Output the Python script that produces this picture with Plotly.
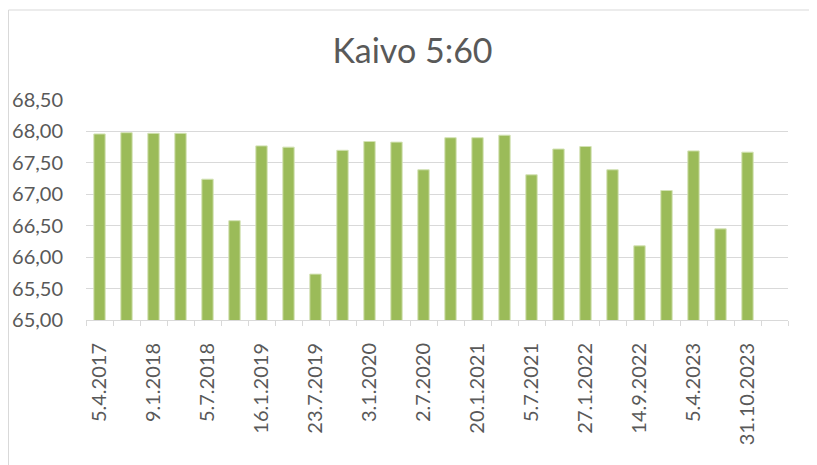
import plotly.graph_objects as go

# mittaukset (26 kpl), vain joka toinen päivämäärä näkyy akselilla
values = [67.96, 67.98, 67.97, 67.97, 67.24, 66.58, 67.77, 67.75, 65.73, 67.70,
          67.84, 67.83, 67.39, 67.90, 67.90, 67.94, 67.31, 67.72, 67.76, 67.39,
          66.18, 67.06, 67.69, 66.45, 67.67, 64.98]
tick_labels = ["5.4.2017", "9.1.2018", "5.7.2018", "16.1.2019", "23.7.2019", "3.1.2020",
               "2.7.2020", "20.1.2021", "5.7.2021", "27.1.2022", "14.9.2022", "5.4.2023",
               "31.10.2023"]
y_ticks = [65.0, 65.5, 66.0, 66.5, 67.0, 67.5, 68.0, 68.5]

x = list(range(len(values)))
tick_pos = x[::2]

grey = "#595959"
fig = go.Figure()
fig.add_trace(go.Bar(x=x, y=values, width=0.42,
                     marker=dict(color="#9bbb59", line=dict(color="#d3e2b4", width=1))))

# sivun body-marginaali (8 px) huomioitu koossa ja marginaaleissa
fig.update_layout(
    width=809, height=457,
    margin=dict(l=78, r=29, t=92, b=145),
    paper_bgcolor="white", plot_bgcolor="white",
    font=dict(family="Lato", color=grey, size=20),
    title=dict(text="Kaivo 5:60", x=0.5, xanchor="center", y=0.905, yanchor="middle",
               font=dict(family="Lato", size=34, color=grey)),
    showlegend=False,
    shapes=[dict(type="rect", xref="paper", yref="paper",
                 x0=-77.5 / 702, x1=1.2, y0=-1.0, y1=1 + 90 / 220,
                 line=dict(color="#d9d9d9", width=1), layer="below")],
)
fig.update_xaxes(range=[-0.5, len(values) - 0.5], tickvals=tick_pos, ticktext=tick_labels,
                 tickangle=-90, ticks="", showgrid=False, zeroline=False, automargin=False,
                 showline=True, linecolor="#d9d9d9", linewidth=1,
                 ticklabelstandoff=14, tickfont=dict(size=20, color=grey),
                 minor=dict(ticks="outside", tick0=-0.5, dtick=1, ticklen=5,
                            tickcolor="#d9d9d9", showgrid=False))
fig.update_yaxes(range=[65, 68.5], tickvals=y_ticks,
                 ticktext=[f"{v:.2f}".replace(".", ",") for v in y_ticks],
                 showgrid=True, gridcolor="#d9d9d9", gridwidth=1, zeroline=False,
                 showline=False, ticks="", ticklabelstandoff=22, automargin=False,
                 tickfont=dict(size=20, color=grey))

fig.write_html("out.html")
